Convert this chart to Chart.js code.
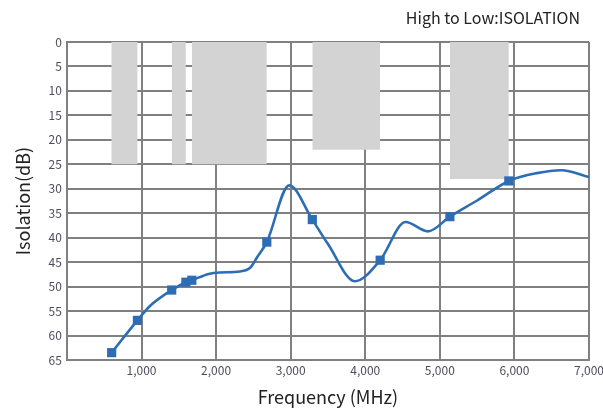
<!DOCTYPE html>
<html>
<head>
<meta charset="utf-8">
<script src="https://cdn.jsdelivr.net/npm/chart.js@4/dist/chart.umd.min.js"></script>
<style>
  html, body { margin: 0; padding: 0; background: #fff; }
  #wrap { width: 603px; height: 408px; position: relative; }
</style>
</head>
<body>
<div id="wrap"><canvas id="myChart"></canvas></div>
<script>
'use strict';

/* Shaded frequency bands: start / end (MHz) and how deep they reach (dB) */
const bandStarts = [595, 1405, 1675, 3290, 5135];
const bandEnds = [948, 1595, 2680, 4200, 5925];
const bandDepths = [25, 25, 25, 22, 28];

/* Measured isolation curve */
const curveFreq = [600, 945, 1110, 1405, 1595, 1675, 1900, 2050, 2320, 2460, 2550, 2680, 2980, 3290, 3500, 3860, 4200, 4540, 4840, 5135, 5500, 5925, 6300, 6630, 7000];
const curveIso = [63.5, 56.9, 54.0, 50.7, 49.1, 48.7, 47.4, 47.1, 46.9, 46.1, 44.0, 40.9, 29.3, 36.3, 41.3, 48.9, 44.6, 36.8, 38.7, 35.7, 32.4, 28.4, 26.8, 26.2, 27.6];

/* Square markers at the band edges */
const markerFreq = [600, 945, 1405, 1595, 1675, 2680, 3290, 4200, 5135, 5925];
const markerIso = [63.5, 56.9, 50.7, 49.1, 48.7, 40.9, 36.3, 44.6, 35.7, 28.4];

const xTicks = [0, 1000, 2000, 3000, 4000, 5000, 6000, 7000];
const yTicks = [0, 5, 10, 15, 20, 25, 30, 35, 40, 45, 50, 55, 60, 65];

const chartTitle = 'High to Low:ISOLATION';
const xTitle = 'Frequency (MHz)';
const yTitle = 'Isolation(dB)';

const FONT = "'Noto Sans CJK JP', 'Noto Sans', sans-serif";
const blue = '#2c6db5';
const gridGray = '#808080';
const tickColor = '#4d4d5e';

// helper to pair x / y arrays
function toPoints(xs, ys) {
    return xs.map((x, i) => ({ x: x, y: ys[i] }));
}

const datasets = [];

datasets.push({
    label: 'curve',
    data: toPoints(curveFreq, curveIso),
    borderColor: blue,
    borderWidth: 2.6,
    pointRadius: 0,
    cubicInterpolationMode: 'monotone',
    fill: false,
    order: 1
});

datasets.push({
    label: 'markers',
    data: toPoints(markerFreq, markerIso),
    showLine: false,
    pointStyle: 'rect',
    pointRadius: 6.5,
    pointBackgroundColor: blue,
    pointBorderWidth: 0,
    order: 0
});

// each band is a flat line at its depth filled up to 0 dB (top of the reversed axis)
bandStarts.forEach((start, i) => {
    datasets.push({
        label: 'band' + i,
        data: [{ x: start, y: bandDepths[i] }, { x: bandEnds[i], y: bandDepths[i] }],
        borderWidth: 0,
        pointRadius: 0,
        backgroundColor: '#d3d3d3',
        fill: 'origin',
        tension: 0,
        order: 5
    });
});

/* Title drawn top right */
const titlePlugin = {
    id: 'cornerTitle',
    afterDraw(chart) {
        const ctx = chart.ctx;
        ctx.save();
        ctx.font = '16px ' + FONT;
        ctx.fillStyle = '#222';
        ctx.textAlign = 'right';
        ctx.textBaseline = 'middle';
        ctx.fillText(chartTitle, chart.width - 23, 18);
        ctx.restore();
    }
};

const config = {
    type: 'line',
    data: { datasets: datasets },
    options: {
        responsive: true,
        maintainAspectRatio: false,
        animation: false,
        devicePixelRatio: 1,
        layout: {
            padding: { top: 42, left: 8, right: 0, bottom: 0 }
        },
        plugins: {
            legend: { display: false },
            tooltip: { enabled: false },
            title: { display: false }
        },
        scales: {
            x: {
                type: 'linear',
                min: 0,
                max: 7000,
                afterBuildTicks: (scale) => {
                    scale.ticks = xTicks.map(v => ({ value: v }));
                },
                afterFit: (scale) => {
                    // last label is allowed to run off the right edge
                    scale.paddingRight = 14;
                },
                grid: { color: gridGray, lineWidth: 2, drawTicks: false },
                border: { color: gridGray, width: 2 },
                ticks: {
                    padding: 3,
                    color: tickColor,
                    font: { family: FONT, size: 12 },
                    maxRotation: 0,
                    callback: (v) => v === 0 ? '' : v.toLocaleString('en-US')
                },
                title: {
                    display: true,
                    text: xTitle,
                    color: '#222',
                    font: { family: FONT, size: 18 },
                    padding: { top: 6, bottom: 0 }
                }
            },
            y: {
                type: 'linear',
                reverse: true,
                min: 0,
                max: 65,
                afterBuildTicks: (scale) => {
                    scale.ticks = yTicks.map(v => ({ value: v }));
                },
                grid: { color: gridGray, lineWidth: 2, drawTicks: false },
                border: { color: gridGray, width: 2 },
                ticks: {
                    padding: 5,
                    color: tickColor,
                    font: { family: FONT, size: 12 }
                },
                title: {
                    display: true,
                    text: yTitle,
                    color: '#222',
                    font: { family: FONT, size: 18 },
                    padding: { top: 4, bottom: 10 }
                }
            }
        }
    },
    plugins: [titlePlugin]
};

var myChart = new Chart(
    document.getElementById('myChart'),
    config
);
</script>
</body>
</html>
